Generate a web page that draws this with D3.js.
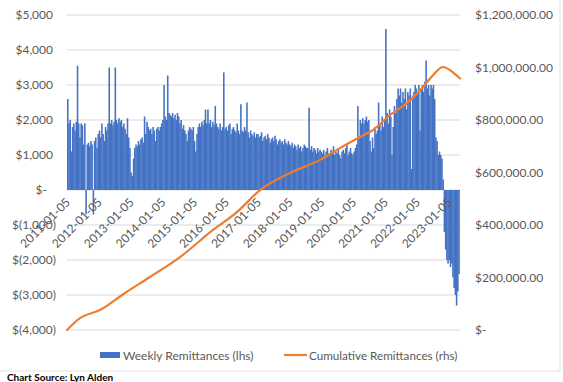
<!DOCTYPE html>
<html><head><meta charset="utf-8">
<script src="https://cdn.jsdelivr.net/npm/d3@7"></script>
<style>
body{margin:0;background:#fff}
svg{display:block}
text{font-family:Lato,'Open Sans',sans-serif}
</style>
</head><body>
<svg id="c" width="563" height="382"></svg>
<script>
// ---- DATA ----
const seriesStart = "2011-01-05";   // first bi-weekly bucket
// weekly remittances (lhs), read every two weeks
const weeklyValues = [
  // 2011
  2600,1900,2000,1100,1800,1900,1700,1950,3550,1900,1500,1900,1850,1300,1900,-700,1300,1350,1250,1400,1300,-700,1400,1500,1200,1600,
  // 2012
  1700,1500,1900,1600,1400,1800,1700,1900,3500,1900,2000,1850,1950,3500,2000,1900,2050,1950,2000,1800,1900,1750,1600,2050,1500,1200,
  // 2013
  500,400,900,1200,1300,1250,1400,1300,1450,1500,1350,2100,1600,1950,1800,1700,1750,1600,1800,1700,1400,1750,1800,1700,1800,1900,
  // 2014
  2000,3000,2100,2000,3270,2200,2150,2100,2200,2050,2150,2000,2200,2100,1900,2000,1750,1850,1700,1600,1400,1700,1800,1750,1700,1800,
  // 2015
  1400,1100,1600,1800,1900,1800,1950,1850,2000,2300,1900,2300,1900,2000,1800,1950,1850,2400,1900,1800,1750,1900,1700,1800,3360,1750,
  // 2016
  1800,1700,1850,1900,1600,1750,1800,1700,1650,1900,1700,1600,2450,1700,1650,1800,1700,2500,1650,1500,1700,1600,1550,1650,1500,1600,
  // 2017
  1600,1500,1550,1650,1400,1500,1550,1450,1600,1500,1350,1450,1500,1400,1550,1450,1300,1400,1450,1350,1400,1300,1450,1350,1300,1400,
  // 2018
  1300,1250,1350,1200,1300,1250,1150,1300,1200,1250,1100,1200,1300,1250,1200,1200,2350,1150,1250,1100,1200,1150,1050,1200,1100,1150,
  // 2019
  1100,1050,1150,1000,1100,1200,1050,1000,1150,1100,1250,1000,1100,1050,1200,1000,900,1100,1150,1050,1200,1300,1000,1100,1200,1050,
  // 2020
  1000,1100,1200,1300,2400,1500,2000,1900,2050,1900,2000,2100,1950,2000,1400,1100,1500,1200,1800,1600,1700,2500,1900,1700,2100,1800,
  // 2021
  2000,4600,2200,1900,2300,2100,1000,1800,2400,2200,2600,2900,2700,2900,2500,2800,2600,2900,2300,2800,2700,2900,600,2700,2800,3000,
  // 2022
  2900,2800,3000,1700,2900,3000,2800,3100,3700,2900,3000,2700,3000,2900,3000,2600,1500,1400,1000,1100,1000,900,300,-1200,-1700,-2000,
  // 2023
  -2100,-2000,-2200,-2100,-2500,-2800,-3000,-3300,-2900,-2400
];
// cumulative remittances (rhs)
const cumDates = ["2011-01-05","2011-06-03","2012-01-18","2012-11-01","2013-08-15","2014-07-26","2015-08-09","2016-05-10","2017-01-30","2018-01-09","2018-12-20","2019-08-07","2020-03-23","2020-08-20","2021-03-03","2021-09-15","2022-03-18","2022-07-11","2022-11-03","2023-01-22","2023-03-20","2023-05-17"];
const cumValues = [0,45000,76000,141000,202000,278000,381000,449000,533000,598000,648000,693000,735000,762000,819000,865000,926000,971000,1002000,990000,975000,958000];
const xTickLabels = ["2011-01-05","2012-01-05","2013-01-05","2014-01-05","2015-01-05","2016-01-05","2017-01-05","2018-01-05","2019-01-05","2020-01-05","2021-01-05","2022-01-05","2023-01-05"];
const leftTicks = [-4000,-3000,-2000,-1000,0,1000,2000,3000,4000,5000];
const rightTicks = [0,200000,400000,600000,800000,1000000,1200000];
const legendLabels = ["Weekly Remittances (lhs)","Cumulative Remittances (rhs)"];
const sourceText = "Chart Source: Lyn Alden";

// ---- CHART ----
const parse = d3.utcParse("%Y-%m-%d");
const svg = d3.select("#c");
const BLUE = "#4472C4", ORANGE = "#ED7D31", GREY = "#595959", GRID = "#d9d9d9";

const x = d3.scaleUtc().domain([parse("2011-01-05"), parse("2023-01-05")]).range([67, 448.6]);
const yL = d3.scaleLinear().domain([-4000, 5000]).range([330, 15]);
const yR = d3.scaleLinear().domain([0, 1200000]).range([330, 15]);

// frame
svg.append("rect").attr("x",-1).attr("y",-1).attr("width",561).attr("height",372)
  .attr("fill","none").attr("stroke","#e3e3e3");

// gridlines
svg.append("g").selectAll("line").data(leftTicks).join("line")
  .attr("x1",67).attr("x2",460)
  .attr("y1",d=>yL(d)).attr("y2",d=>yL(d))
  .attr("stroke",GRID).attr("stroke-width",1);

// bars
const start = parse(seriesStart);
const bars = weeklyValues.map((v,i)=>({d0:d3.utcDay.offset(start,14*i), d1:d3.utcDay.offset(start,14*(i+1)), v}));
svg.append("g").selectAll("rect").data(bars).join("rect")
  .attr("x",d=>x(d.d0))
  .attr("width",d=>x(d.d1)-x(d.d0)+0.35)
  .attr("y",d=>Math.min(yL(d.v),yL(0)))
  .attr("height",d=>Math.abs(yL(d.v)-yL(0)))
  .attr("fill",BLUE);

// cumulative line
const cum = cumDates.map((d,i)=>({d:parse(d), v:cumValues[i]}));
svg.append("path").datum(cum)
  .attr("d", d3.line().curve(d3.curveMonotoneX).x(d=>x(d.d)).y(d=>yR(d.v)))
  .attr("fill","none").attr("stroke",ORANGE).attr("stroke-width",2.2)
  .attr("stroke-linejoin","round").attr("stroke-linecap","round");

// left axis labels
const fmt = d3.format(",");
svg.append("g").selectAll("text").data(leftTicks).join("text")
  .attr("x",d=> d>0 ? 53 : d<0 ? 56 : 47)
  .attr("y",d=>yL(d)).attr("dy","0.35em")
  .attr("text-anchor","end").attr("font-size",12).attr("fill",GREY)
  .text(d=> d>0 ? "$"+fmt(d) : d<0 ? "$("+fmt(-d)+")" : "$-");

// right axis labels
const fmt2 = d3.format(",.2f");
svg.append("g").selectAll("text").data(rightTicks).join("text")
  .attr("x",475).attr("y",d=>yR(d)).attr("dy","0.35em")
  .attr("text-anchor","start").attr("font-size",12).attr("fill",GREY)
  .text(d=> d===0 ? "$-" : "$"+fmt2(d));

// x tick labels
svg.append("g").selectAll("text").data(xTickLabels).join("text")
  .attr("transform",d=>`translate(${x(parse(d))+4},203) rotate(-45)`)
  .attr("text-anchor","end").attr("font-size",12).attr("fill",GREY)
  .text(d=>d);

// legend
const lg = svg.append("g");
lg.append("rect").attr("x",100).attr("y",352).attr("width",20).attr("height",6).attr("fill",BLUE);
lg.append("text").attr("x",123).attr("y",359.5).attr("font-size",12).attr("fill",GREY).text(legendLabels[0]);
lg.append("line").attr("x1",284).attr("x2",307).attr("y1",355).attr("y2",355).attr("stroke",ORANGE).attr("stroke-width",2.2);
lg.append("text").attr("x",309).attr("y",359.5).attr("font-size",11.7).attr("fill",GREY).text(legendLabels[1]);

// source
svg.append("text").attr("x",7).attr("y",381).attr("font-size",10).attr("font-weight","bold")
  .attr("fill","#000").text(sourceText);
</script>
</body></html>
